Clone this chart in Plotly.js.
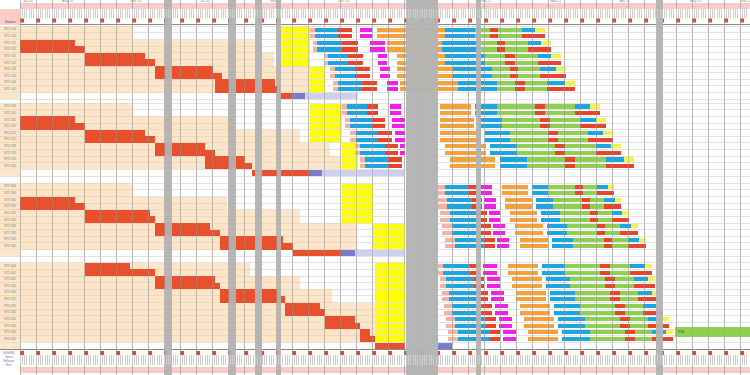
<!DOCTYPE html>
<html><head><meta charset="utf-8">
<script src="https://cdn.plot.ly/plotly-3.0.1.min.js"></script>
<style>html,body{margin:0;padding:0;background:#fff}#chart{width:750px;height:375px}</style>
</head><body><div id="chart"></div>
<script>
// ================= DATA (x = weeks from project start) =================
const storyLabelsA = ["STO 101","STO 111","STO 121","STO 131","STO 141","STO 201","STO 211","STO 221","STO 231","STO 241","STO 301","STO 311","STO 321","STO 331","STO 341","STO 401","STO 411","STO 421","STO 431","STO 441","STO 451"];
const storyLabelsB = ["STO 102","STO 112","STO 122","STO 132","STO 142","STO 202","STO 212","STO 222","STO 232","STO 242","STO 302","STO 312","STO 322","STO 332","STO 342","STO 402","STO 412","STO 422","STO 432","STO 442","STO 452"];

// backlog (beige)
const backlogStart = [0,0,0,0,0, 0,0,0,0,0, 0,0,0,0,0, 0,0,0,0,0,0];
const backlogEnd   = [7.06,15.1,15.9,18.1,18.1, 7.06,13.44,17.5,19.38,20.0, 7.06,12.94,17.5,21.06,21.06, 14.38,17.5,19.5,22.19,22.19,22.19];
// specification (red)
const specStart = [null,0,4.06,8.44,12.19, null,0,4.06,8.44,11.56, null,0,4.06,8.44,12.5, 4.06,8.44,12.5,16.56,19.06,21.25];
const specEndA  = [null,3.44,7.81,12.06,15.94, null,3.44,7.81,11.56,14.06, null,3.44,8.13,11.88,16.44, 6.88,12.19,16.25,18.75,20.94,21.88];
const specEndB  = [null,4.06,8.44,12.63,16.25, null,4.06,8.44,12.19,14.5, null,4.06,8.44,12.5,17.06, 8.44,12.5,16.56,19.06,21.25,22.19];
// ready (yellow)
const readyStart = [16.25,16.25,16.25,18.13,18.13, 18.13,18.13,18.13,20.13,20.13, 20.13,20.13,20.13,22.06,22.06, 22.19,22.19,22.19,22.19,22.19,22.19];
const readyEnd   = [18.13,18.13,18.13,19.06,19.06, 20.13,20.13,20.13,21.13,21.13, 22.06,22.06,22.06,24.06,24.06, 24.06,24.06,24.06,24.06,24.06,24.06];
// sprint chain
const pinkStart   = [18.13,18.31,19.06,19.38,19.56, 20.13,20.31,20.63,20.94,21.25, 26.06,26.13,26.25,26.38,26.56, 26.13,26.25,26.38,26.5,26.63,26.75];
const blue1Start  = [18.44,18.56,19.25,19.69,19.88, 20.44,20.63,21.0,21.25,21.56, 26.56,26.69,26.88,27.0,27.19, 26.44,26.63,26.81,27.0,27.19,27.38];
const red1Start   = [19.88,20.13,20.5,20.94,21.38, 21.69,22.0,22.38,22.81,23.0, 28.0,28.25,28.5,28.75,29.0, 28.13,28.38,28.63,28.88,29.13,29.38];
const red1End     = [20.75,21.13,21.44,21.88,22.31, 22.38,22.81,23.25,23.63,23.88, 28.63,28.88,29.19,29.44,29.69, 28.75,29.0,29.25,29.5,29.75,30.0];
const magStart    = [21.25,21.88,22.38,22.5,22.94, 23.13,23.25,23.44,23.75,null, 28.75,29.0,29.31,29.56,29.81, 28.94,29.19,29.44,29.69,29.94,30.19];
const magEnd      = [22.0,22.81,22.94,23.13,23.63, 23.81,24.06,24.06,24.06,null, 29.5,29.75,30.0,30.31,30.56, 29.81,30.0,30.25,30.5,30.75,31.0];
const orangeStart = [22.31,22.94,23.56,23.56,23.75, 26.25,26.25,26.25,26.56,26.88, 30.13,30.31,30.63,30.94,31.25, 30.5,30.75,31.0,31.25,31.5,31.75];
const orangeEnd   = [26.56,26.38,26.56,27.06,27.38, 28.19,28.38,28.81,29.13,29.69, 31.75,32.0,32.31,32.69,33.0, 32.38,32.63,32.88,33.13,33.38,33.63];
const blue2Start  = [26.56,26.38,26.56,27.06,27.38, 28.44,28.63,29.06,29.38,30.0, 32.0,32.25,32.56,32.94,33.25, 32.63,32.88,33.13,33.38,33.63,33.88];
const green1Start = [28.44,28.63,29.06,29.5,29.81, 29.81,30.13,30.63,31.06,31.69, 33.0,33.31,33.75,34.19,34.56, 34.06,34.38,34.69,35.0,35.31,35.63];
const red2Start   = [29.38,29.81,30.31,30.63,30.94, 32.19,32.5,33.0,33.44,34.06, 34.69,35.13,35.63,36.06,36.5, 36.25,36.56,36.88,37.19,37.5,37.81];
const green2Start = [29.88,30.31,30.94,31.13,31.56, 32.81,33.13,33.63,34.06,34.69, 35.19,35.63,36.13,36.56,37.0, 36.88,37.19,37.5,37.81,38.13,38.44];
const blue3Start  = [31.38,31.75,32.38,32.5,32.94, 34.69,35.0,35.5,36.0,36.63, 36.06,36.5,37.0,37.5,38.0, 38.13,38.38,38.63,38.94,39.25,39.5];
const doneStart   = [32.19,32.56,33.19,33.5,34.06, 35.63,36.0,36.44,36.94,37.75, 36.75,37.19,37.63,38.19,38.69, 39.06,39.25,39.5,39.75,40.13,40.38];
const doneEnd     = [32.81,33.19,33.81,34.13,34.69, 36.25,36.63,37.06,37.56,38.38, 37.13,37.56,38.06,38.63,39.13, 39.5,39.69,39.94,40.19,40.56,40.81];
// release rows (one per group)
const relRedStart    = [16.25,14.5,17.06,22.19];
const relRedEnd      = [17.0,18.13,20.13,24.06];
const relPurpleStart = [17.0,18.13,20.13,26.13];
const relPurpleEnd   = [17.81,18.88,20.94,27.0];
const relLavEnd      = [21.13,24.06,24.06,null];
// run (big green bar)
const runStart = [40.94], runEnd = [45.63], runLabel = ["RUN"];
// holidays (grey bands)
const holStart = [9.06,13.06,14.69,16.06,24.13,28.5,39.75];
const holEnd   = [9.5,13.5,15.13,16.31,26.13,28.81,40.19];
// months
const monthLabels = ["Jul-20","Aug-20","Sep-20","Oct-20","Nov-20","Dec-20","Jan-21","Feb-21","Mar-21","Apr-21","May-21","Jun-21"];
const monthPos    = [0.13,2.63,6.88,11.19,15.63,19.88,24.38,28.75,33.13,37.44,41.88,45.0];

// ================= LAYOUT HELPERS =================
const groupTop = [0.2, 11.8, 23.9, 35.9];
const groupSize = [5,5,5,6];
const blockTop = [];
groupTop.forEach((t,g)=>{ for(let i=0;i<groupSize[g];i++) blockTop.push(t+2*i); });
const releaseTop = groupTop.map((t,g)=>t+2*groupSize[g]);
const yA = blockTop.map(t=>t+0.5), yB = blockTop.map(t=>t+1.5), yBl = blockTop.map(t=>t+1);
const yRel = releaseTop.map(t=>t+0.5);
const rowLines = [];
blockTop.forEach(t=>rowLines.push(t,t+1,t+2));
releaseTop.forEach(t=>rowLines.push(t,t+1));

const XR = [-1.25, 45.625];
const C = {beige:'rgba(250,203,148,0.5)', spec:'#e8502e', ready:'#ffff00', pink:'#f2b3a2', blue:'#1aa6e3',
  red:'#e8432b', mag:'#f21fe6', orange:'#f6a23a', green:'#8fd14f', done:'#f3f247', purple:'#7b7bd0', lav:'#cfd0f0',
  grey:'#b3b3b3', dot:'#e2472c', hdr:'rgba(238,170,165,0.6)'};

function seg(name, s, e, y, color, width, extra){
  const base=[], len=[], yy=[];
  for(let i=0;i<s.length;i++){ if(s[i]==null||e[i]==null) continue; base.push(s[i]); len.push(e[i]-s[i]); yy.push(y[i]); }
  return Object.assign({type:'bar', orientation:'h', base, x:len, y:yy, width, name,
    marker:{color, line:{width:0}}, hoverinfo:'skip', showlegend:false}, extra||{});
}
function segAB(name, s, e, color, width){
  return seg(name, s.concat(s), e.concat(e), yA.concat(yB), color, width);
}
const n = blockTop.length;
const fill = v => new Array(n).fill(v);

const traces = [];
// label column
traces.push(seg('labcol', fill(-1.25).concat([-1.25,-1.25,-1.25,-1.25]), fill(0).concat([0,0,0,0]), yBl.concat(yRel), C.beige, 0));
traces[traces.length-1].width = fill(1.9).concat([0.9,0.9,0.9,0.9]);
traces.push({type:'scatter', mode:'text', x:fill(-0.62).concat(fill(-0.62)), y:yA.concat(yB),
  text:storyLabelsA.concat(storyLabelsB), textfont:{size:3, color:'#777', family:'Liberation Sans'}, hoverinfo:'skip', showlegend:false});
// backlog
traces.push(seg('backlog', backlogStart, backlogEnd, yBl, C.beige, 2));
// spec
traces.push(seg('specA', specStart, specEndA, yA, C.spec, 1));
traces.push(seg('specB', specStart, specEndB, yB, C.spec, 1));
// ready
traces.push(segAB('ready', readyStart, readyEnd, C.ready, 0.85));
// release
traces.push(seg('relRed', relRedStart, relRedEnd, yRel, C.spec, 0.85));
traces.push(seg('relPurple', relPurpleStart, relPurpleEnd, yRel, C.purple, 0.85));
traces.push(seg('relLav', relPurpleEnd, relLavEnd, yRel, C.lav, 0.85));
// sprint chain
const W = 0.62;
traces.push(segAB('pink', pinkStart, blue1Start, C.pink, W));
traces.push(segAB('blue1', blue1Start, red1Start, C.blue, W));
traces.push(segAB('red1', red1Start, red1End, C.red, W));
traces.push(segAB('mag', magStart, magEnd, C.mag, W));
traces.push(segAB('orange', orangeStart, orangeEnd, C.orange, W));
traces.push(segAB('blue2', blue2Start, green1Start, C.blue, W));
traces.push(segAB('green1', green1Start, red2Start, C.green, W));
traces.push(segAB('red2', red2Start, green2Start, C.red, W));
traces.push(segAB('green2', green2Start, blue3Start, C.green, W));
traces.push(seg('blue3', blue3Start, doneStart, yA, C.blue, W));
traces.push(seg('red3', blue3Start, doneEnd, yB, C.red, W));
traces.push(seg('done', doneStart, doneEnd, yA, C.done, W));
traces.push(seg('run', runStart, runEnd, [yA[n-1]], C.green, 1.5, {text:runLabel, textposition:'inside', insidetextanchor:'start', textfont:{size:3,color:'#355'}}));

// header (y2, units = px from top)
const weeks = []; for(let w=0; w<=45; w++) weeks.push(w);
const days = []; for(let d=0; d<=319; d++) days.push(d/7);
traces.push({type:'scatter', mode:'text', x:monthPos.map(p=>p+0.35), y:monthPos.map(()=>1.6), text:monthLabels,
  textfont:{size:3.5,color:'#888',family:'Liberation Sans'}, xaxis:'x', yaxis:'y2', hoverinfo:'skip', showlegend:false});
traces.push({type:'bar', orientation:'h', base:[0], x:[45.625], y:[6], width:[6], marker:{color:C.hdr}, xaxis:'x', yaxis:'y2', hoverinfo:'skip', showlegend:false});
traces.push({type:'bar', orientation:'h', base:[-1.25], x:[1.25], y:[17], width:[16], marker:{color:'#fbcdc6'}, xaxis:'x', yaxis:'y2', hoverinfo:'skip', showlegend:false});
traces.push({type:'scatter', mode:'text', x:[-0.62], y:[22], text:['Stories'], textfont:{size:3.5,color:'#555',family:'Liberation Sans'}, xaxis:'x', yaxis:'y2', hoverinfo:'skip', showlegend:false});
traces.push({type:'scatter', mode:'markers', x:weeks.map(w=>w+0.13), y:weeks.map(()=>20.5), marker:{symbol:'square', size:4, color:C.dot},
  xaxis:'x', yaxis:'y2', hoverinfo:'skip', showlegend:false});
// footer (y3, units = px from 349)
traces.push({type:'scatter', mode:'markers', x:weeks.map(w=>w+0.13), y:weeks.map(()=>4), marker:{symbol:'square', size:4, color:C.dot},
  xaxis:'x', yaxis:'y3', hoverinfo:'skip', showlegend:false});
traces.push({type:'bar', orientation:'h', base:[0], x:[45.625], y:[21], width:[6], marker:{color:C.hdr}, xaxis:'x', yaxis:'y3', hoverinfo:'skip', showlegend:false});
traces.push({type:'scatter', mode:'text', x:[-0.7,-0.7,-0.7,-0.7], y:[4,8,12,16], text:['LEGEND','Sprint','Release','Run'],
  textfont:{size:3,color:'#6a7a9a',family:'Liberation Sans'}, xaxis:'x', yaxis:'y3', hoverinfo:'skip', showlegend:false});
// day-tick subplots
traces.push({type:'scatter', mode:'markers', x:[0], y:[0], marker:{opacity:0}, xaxis:'x2', yaxis:'y4', hoverinfo:'skip', showlegend:false});
traces.push({type:'scatter', mode:'markers', x:[0], y:[0], marker:{opacity:0}, xaxis:'x3', yaxis:'y5', hoverinfo:'skip', showlegend:false});
// holidays on full-height overlay
traces.push({type:'bar', x:holStart.map((s,i)=>(s+holEnd[i])/2), width:holStart.map((s,i)=>holEnd[i]-s), y:holStart.map(()=>1), base:0,
  marker:{color:C.grey, line:{width:0}}, opacity:0.95, xaxis:'x', yaxis:'y6', hoverinfo:'skip', showlegend:false});

const hidden = {visible:false, fixedrange:true};
const layout = {
  width:750, height:375, margin:{l:0,r:0,t:0,b:0}, paper_bgcolor:'#fff', plot_bgcolor:'rgba(0,0,0,0)',
  barmode:'overlay', showlegend:false, bargap:0,
  xaxis:{domain:[0,1], range:XR, tickmode:'array', tickvals:weeks, showgrid:true, gridcolor:'rgba(150,150,150,0.45)', gridwidth:1,
    showticklabels:false, ticks:'', zeroline:false, showline:true, mirror:true, linecolor:'#8a8a8a', linewidth:1, anchor:'y', fixedrange:true},
  yaxis:{domain:[26/375,350/375], range:[48.9,0], tickmode:'array', tickvals:rowLines, showgrid:true, gridcolor:'#e2e2e2',
    showticklabels:false, ticks:'', zeroline:false, anchor:'x', fixedrange:true},
  yaxis2:Object.assign({domain:[350/375,1], range:[25,0], anchor:'x'}, hidden),
  yaxis3:Object.assign({domain:[0,26/375], range:[26,0], anchor:'x'}, hidden),
  xaxis2:{domain:[0,1], range:XR, anchor:'y4', tickmode:'array', tickvals:days, showgrid:true, gridcolor:'#cdcdcd',
    showticklabels:false, ticks:'', zeroline:false, showline:false, fixedrange:true},
  yaxis4:Object.assign({domain:[(375-18)/375,(375-9)/375], range:[0,1], anchor:'x2'}, hidden),
  xaxis3:{domain:[0,1], range:XR, anchor:'y5', tickmode:'array', tickvals:days, showgrid:true, gridcolor:'#cdcdcd',
    showticklabels:false, ticks:'', zeroline:false, showline:false, fixedrange:true},
  yaxis5:Object.assign({domain:[10/375,20/375], range:[0,1], anchor:'x3'}, hidden),
  yaxis6:Object.assign({domain:[0,1], range:[0,1], anchor:'x'}, hidden)
};
Plotly.newPlot('chart', traces, layout, {staticPlot:true, displayModeBar:false});
</script></body></html>
